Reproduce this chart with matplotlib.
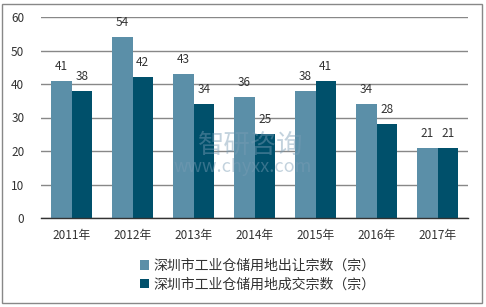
import matplotlib.pyplot as plt
import numpy as np
from matplotlib.patches import Rectangle

plt.rcParams['font.family'] = ['Noto Sans CJK SC', 'DejaVu Sans']

years = ['2011年', '2012年', '2013年', '2014年', '2015年', '2016年', '2017年']
transfer = [41, 54, 43, 36, 38, 34, 21]
deals = [38, 42, 34, 25, 41, 28, 21]
label1 = '深圳市工业仓储用地出让宗数（宗）'
label2 = '深圳市工业仓储用地成交宗数（宗）'

c1 = '#5B8FA8'
c2 = '#00506B'

fig = plt.figure(figsize=(4.86, 3.07), dpi=100)
# outer border
fig.patches.append(Rectangle((2 / 486, 4 / 307), 480 / 486, 299 / 307,
                             transform=fig.transFigure, fill=False,
                             edgecolor='#888888', linewidth=1))

ax = fig.add_axes([41 / 486, 1 - 218 / 307, 427 / 486, 201 / 307])

x = np.arange(len(years))
w = 0.335
b1 = ax.bar(x - w / 2, transfer, w, color=c1, label=label1, zorder=2)
b2 = ax.bar(x + w / 2, deals, w, color=c2, label=label2, zorder=2)

for bars in (b1, b2):
    for rect in bars:
        h = rect.get_height()
        ax.text(rect.get_x() + rect.get_width() / 2, h + 2.4, f'{h:g}',
                ha='center', va='bottom', fontsize=8.5, color='#333333')

ax.set_xlim(-0.5, len(years) - 0.5)
ax.set_ylim(0, 60)
ax.set_yticks(range(0, 61, 10))
ax.set_xticks(x)
ax.set_xticklabels(years)
ax.tick_params(axis='both', length=0, labelsize=8.5, colors='#333333')
ax.tick_params(axis='x', pad=8)
ax.tick_params(axis='y', pad=12)
ax.grid(axis='y', color='#888888', linewidth=1, zorder=0)
for s in ['left', 'right', 'top']:
    ax.spines[s].set_visible(False)
ax.spines['bottom'].set_color('#333333')
ax.spines['bottom'].set_linewidth(1)

# watermark
fig.text(0.515, 0.525, '智研咨询', fontsize=19, color='#7A9DB5', alpha=0.45,
         ha='center', va='center', zorder=5)
fig.text(0.5, 0.455, 'www.chyxx.com', fontsize=13, color='#7A9DB5', alpha=0.45,
         ha='center', va='center', zorder=5)

leg = fig.legend(handles=[b1, b2], loc='center', bbox_to_anchor=(0.53, 1 - 275 / 307),
                 ncol=1, frameon=False, fontsize=10, handlelength=0.7,
                 handleheight=0.7, handletextpad=0.3, labelspacing=0.35,
                 labelcolor='#333333')

fig.savefig('out.png', dpi=100)
